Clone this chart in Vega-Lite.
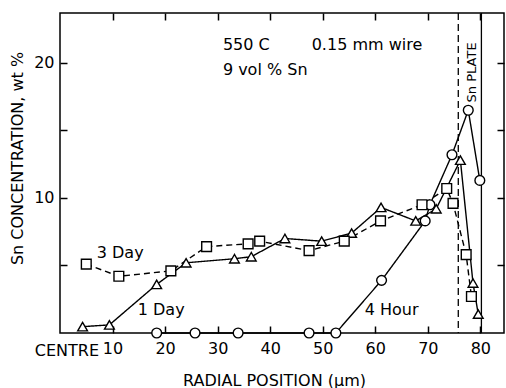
{
  "$schema": "https://vega.github.io/schema/vega-lite/v6.json",
  "width": 444,
  "height": 320,
  "autosize": "none",
  "padding": {"left": 60, "top": 13, "right": 2, "bottom": 55},
  "background": "white",
  "config": {
    "view": {"stroke": "black", "strokeWidth": 1.5},
    "font": "DejaVu Sans",
    "axis": {"domainOpacity": 0, "gridOpacity": 0, "tickColor": "black", "tickWidth": 1.5, "labelColor": "black", "titleColor": "black", "labelFont": "DejaVu Sans", "titleFont": "DejaVu Sans", "labelFontSize": 16, "titleFontSize": 16, "titleFontWeight": "normal"}
  },
  "datasets": {
    "profiles": [
      {"series": "4 Hour", "x": 18.4, "y": 0},
      {"series": "4 Hour", "x": 25.7, "y": 0},
      {"series": "4 Hour", "x": 33.9, "y": 0},
      {"series": "4 Hour", "x": 47.4, "y": 0},
      {"series": "4 Hour", "x": 52.5, "y": 0},
      {"series": "4 Hour", "x": 61.2, "y": 3.9},
      {"series": "4 Hour", "x": 69.5, "y": 8.3},
      {"series": "4 Hour", "x": 70.4, "y": 9.5},
      {"series": "4 Hour", "x": 74.6, "y": 13.2},
      {"series": "4 Hour", "x": 77.7, "y": 16.5},
      {"series": "4 Hour", "x": 79.9, "y": 11.3},
      {"series": "1 Day", "x": 4.3, "y": 0.47},
      {"series": "1 Day", "x": 9.4, "y": 0.6},
      {"series": "1 Day", "x": 18.4, "y": 3.6},
      {"series": "1 Day", "x": 24.0, "y": 5.2},
      {"series": "1 Day", "x": 33.2, "y": 5.5},
      {"series": "1 Day", "x": 36.4, "y": 5.65},
      {"series": "1 Day", "x": 42.8, "y": 7.0},
      {"series": "1 Day", "x": 49.8, "y": 6.8},
      {"series": "1 Day", "x": 55.5, "y": 7.4},
      {"series": "1 Day", "x": 61.1, "y": 9.3},
      {"series": "1 Day", "x": 67.7, "y": 8.3},
      {"series": "1 Day", "x": 71.6, "y": 9.2},
      {"series": "1 Day", "x": 76.2, "y": 12.8},
      {"series": "1 Day", "x": 78.6, "y": 3.7},
      {"series": "1 Day", "x": 79.6, "y": 1.4},
      {"series": "3 Day", "x": 5.0, "y": 5.1},
      {"series": "3 Day", "x": 11.2, "y": 4.2},
      {"series": "3 Day", "x": 21.1, "y": 4.6},
      {"series": "3 Day", "x": 27.9, "y": 6.4},
      {"series": "3 Day", "x": 35.8, "y": 6.6},
      {"series": "3 Day", "x": 38.0, "y": 6.8},
      {"series": "3 Day", "x": 47.4, "y": 6.1},
      {"series": "3 Day", "x": 54.1, "y": 6.8},
      {"series": "3 Day", "x": 61.0, "y": 8.3},
      {"series": "3 Day", "x": 68.9, "y": 9.5},
      {"series": "3 Day", "x": 73.6, "y": 10.7},
      {"series": "3 Day", "x": 74.8, "y": 9.6},
      {"series": "3 Day", "x": 77.3, "y": 5.8},
      {"series": "3 Day", "x": 78.3, "y": 2.7}
    ],
    "boundaries": [
      {"x": 75.8, "style": "dashed"},
      {"x": 80.2, "style": "solid"}
    ],
    "labels": [
      {"text": "550  C", "x": 31.0, "y": 21.3},
      {"text": "0.15 mm  wire", "x": 47.9, "y": 21.3},
      {"text": "9  vol  %  Sn", "x": 31.0, "y": 19.5},
      {"text": "3 Day", "x": 7.0, "y": 5.9},
      {"text": "1 Day", "x": 14.8, "y": 1.7},
      {"text": "4 Hour", "x": 58.0, "y": 1.7},
      {"text": "CENTRE", "x": -4.8, "y": -1.3}
    ],
    "vlabels": [
      {"text": "Sn PLATE", "x": 78.4, "y": 19.3}
    ]
  },
  "layer": [
    {
      "data": {"name": "boundaries"},
      "mark": {"type": "rule", "color": "black", "strokeWidth": 1.3},
      "encoding": {
        "x": {"field": "x", "type": "quantitative", "scale": {"domain": [0, 84.5], "nice": false, "zero": false},
              "axis": {"orient": "top", "values": [10, 20, 30, 40, 50, 60, 70, 80], "labels": false, "tickSize": 7, "offset": -7, "title": null}},
        "strokeDash": {"field": "style", "type": "nominal", "scale": {"domain": ["dashed", "solid"], "range": [[7, 4], [1, 0]]}, "legend": null}
      }
    },
    {
      "data": {"name": "profiles"},
      "mark": {"type": "line", "color": "black", "strokeWidth": 1.4},
      "encoding": {
        "x": {"field": "x", "type": "quantitative", "scale": {"domain": [0, 84.5], "nice": false, "zero": false},
              "axis": {"orient": "bottom", "values": [10, 20, 30, 40, 50, 60, 70, 80], "tickSize": 7, "offset": -7, "labelPadding": 7, "title": "RADIAL POSITION  (μm)", "titleX": 214, "titleY": 54, "titleBaseline": "middle"}},
        "y": {"field": "y", "type": "quantitative", "scale": {"domain": [0, 23.7], "nice": false, "zero": false},
              "axis": {"orient": "left", "values": [5, 10, 15, 20], "labelExpr": "datum.value % 10 === 0 ? datum.label : ''", "tickSize": 7, "offset": -7, "labelPadding": 6, "title": "Sn CONCENTRATION, wt %", "titleX": -50, "titleY": 145, "titleBaseline": "middle", "titleAngle": 270}},
        "detail": {"field": "series", "type": "nominal"},
        "strokeDash": {"field": "series", "type": "nominal", "scale": {"domain": ["4 Hour", "1 Day", "3 Day"], "range": [[1, 0], [1, 0], [6, 4]]}, "legend": null}
      }
    },
    {
      "data": {"name": "profiles"},
      "mark": {"type": "point", "filled": false, "fill": "white", "fillOpacity": 1, "stroke": "black", "strokeWidth": 1.4, "opacity": 1, "size": 95},
      "encoding": {
        "x": {"field": "x", "type": "quantitative", "axis": null},
        "y": {"field": "y", "type": "quantitative",
              "axis": {"orient": "right", "values": [5, 10, 15, 20], "labels": false, "tickSize": 7, "offset": -7, "title": null}},
        "shape": {"field": "series", "type": "nominal", "scale": {"domain": ["4 Hour", "1 Day", "3 Day"], "range": ["circle", "triangle-up", "square"]}, "legend": null}
      }
    },
    {
      "data": {"name": "labels"},
      "mark": {"type": "text", "align": "left", "baseline": "middle", "fontSize": 16, "color": "black"},
      "encoding": {
        "x": {"field": "x", "type": "quantitative", "axis": null},
        "y": {"field": "y", "type": "quantitative", "axis": null},
        "text": {"field": "text"}
      }
    },
    {
      "data": {"name": "vlabels"},
      "mark": {"type": "text", "align": "center", "baseline": "middle", "angle": 270, "fontSize": 13, "color": "black"},
      "encoding": {
        "x": {"field": "x", "type": "quantitative", "axis": null},
        "y": {"field": "y", "type": "quantitative", "axis": null},
        "text": {"field": "text"}
      }
    }
  ],
  "resolve": {"axis": {"x": "independent", "y": "independent"}, "scale": {"strokeDash": "independent"}}
}
